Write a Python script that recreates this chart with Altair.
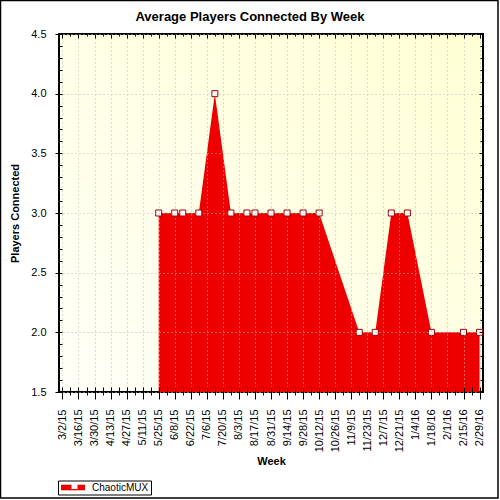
import altair as alt
import pandas as pd

# Weekly average of connected players (weeks with recorded activity only)
week_start = [
    "2015-05-25", "2015-06-08", "2015-06-15", "2015-06-29", "2015-07-13",
    "2015-07-27", "2015-08-10", "2015-08-17", "2015-08-31", "2015-09-14",
    "2015-09-28", "2015-10-12", "2015-11-16", "2015-11-30", "2015-12-14",
    "2015-12-28", "2016-01-18", "2016-02-15", "2016-02-29",
]
avg_players = [
    3.0, 3.0, 3.0, 3.0, 4.0,
    3.0, 3.0, 3.0, 3.0, 3.0,
    3.0, 3.0, 2.0, 2.0, 3.0,
    3.0, 2.0, 2.0, 2.0,
]
series_name = "ChaoticMUX"

# Axis ticks: one per week (Mondays), labelled every other week
tick_weeks = pd.date_range("2015-03-02", "2016-02-29", freq="7D")
tick_ms = [int(t.value // 10**6) for t in tick_weeks]
y_ticks = [round(1.5 + 0.1 * i, 1) for i in range(31)]

DAY_MS = 86400000
x_domain = [tick_ms[0] - 3 * DAY_MS, tick_ms[-1] + 3 * DAY_MS]
y_domain = [1.5, 4.5]

FONT = "Liberation Sans"
RED = "#EE0000"
MARKER_EDGE = "#990000"

df = pd.DataFrame({"week": week_start, "players": avg_players, "series": series_name})

MAJOR_WEEK = "round((datum.value - utc(2015, 2, 2)) / 604800000) % 2 === 0"
MAJOR_Y = "abs(datum.value * 2 - round(datum.value * 2)) < 0.000001"

x_scale = alt.Scale(type="utc", domain=x_domain)
y_scale = alt.Scale(domain=y_domain, zero=False, nice=False)

x_axis_bottom = alt.Axis(
    orient="bottom", values=tick_ms, offset=-5, domain=False,
    labelExpr=f"{MAJOR_WEEK} ? utcFormat(datum.value, '%-m/%-d/%y') : ''",
    labelAngle=270, labelFont=FONT, labelFontSize=11, labelColor="black",
    labelPadding=10, labelOverlap=False, labelFlush=False,
    tickColor="black", tickWidth=1,
    tickSize={"condition": {"test": MAJOR_WEEK, "value": 12}, "value": 8},
    grid=True, gridColor="#BDBDBD", gridDash=[1, 3], gridWidth=1,
    gridOpacity={"condition": {"test": MAJOR_WEEK, "value": 1}, "value": 0},
    title="Week", titleFont=FONT, titleFontSize=11, titleFontWeight="bold",
    titleColor="black", titlePadding=4, zindex=1,
)

y_axis_left = alt.Axis(
    orient="left", values=y_ticks, offset=-3, domain=False,
    labelExpr=f"{MAJOR_Y} ? format(datum.value, '.1f') : ''",
    labelFont=FONT, labelFontSize=11, labelColor="black",
    labelPadding=9, labelOverlap=False, labelFlush=False,
    tickColor="black", tickWidth=1,
    tickSize={"condition": {"test": MAJOR_Y, "value": 7}, "value": 4},
    grid=True, gridColor="#BDBDBD", gridDash=[1, 3], gridWidth=1,
    gridOpacity={"condition": {"test": MAJOR_Y, "value": 1}, "value": 0},
    title="Players Connected", titleFont=FONT, titleFontSize=11,
    titleFontWeight="bold", titleColor="black", titlePadding=10, zindex=1,
)

x_axis_top = alt.Axis(
    orient="top", values=tick_ms, labels=False, domain=False, grid=False,
    tickColor="black", tickWidth=1,
    tickSize={"condition": {"test": MAJOR_WEEK, "value": -4}, "value": -2},
    title=None, zindex=1,
)

y_axis_right = alt.Axis(
    orient="right", values=y_ticks, labels=False, domain=False, grid=False,
    tickColor="black", tickWidth=1,
    tickSize={"condition": {"test": MAJOR_Y, "value": -4}, "value": -3},
    title=None, zindex=1,
)

area = alt.Chart(df).mark_area(interpolate="linear", opacity=1).encode(
    x=alt.X("week:T", scale=x_scale, axis=x_axis_bottom),
    y=alt.Y("players:Q", scale=y_scale, axis=y_axis_left),
    y2=alt.datum(1.5),
    color=alt.Color(
        "series:N",
        scale=alt.Scale(domain=[series_name], range=[RED]),
        legend=alt.Legend(
            orient="none", legendX=-1, legendY=446.5, title=None,
            symbolType="M-1,-0.7H5V0.7H-1Z", symbolSize=64, symbolStrokeWidth=0,
            labelFont=FONT, labelFontSize=10, labelColor="black", labelOffset=22,
            strokeColor="black", fillColor="white", padding=2,
        ),
    ),
)

points = alt.Chart(df).mark_point(
    filled=True, fill="white", stroke=MARKER_EDGE, strokeWidth=1, opacity=1, size=36
).encode(
    x=alt.X("week:T", scale=x_scale, axis=x_axis_top),
    y=alt.Y("players:Q", scale=y_scale, axis=y_axis_right),
    shape=alt.Shape(
        "series:N",
        scale=alt.Scale(range=["square"]),
        legend=alt.Legend(
            orient="none", legendX=10.5, legendY=447, title=None,
            symbolSize=36, symbolFillColor="white", symbolStrokeColor=MARKER_EDGE,
            symbolStrokeWidth=1, labelExpr="''", padding=0,
        ),
    ),
)

# Outer border around the whole figure
frame = alt.Chart(alt.Data(values=[{}])).mark_rect(
    filled=False, stroke="black", strokeWidth=1.5
).encode(
    x=alt.value(-58.5), x2=alt.value(439), y=alt.value(-33.5), y2=alt.value(464)
)

plot_bg = (
    "{gradient: 'linear', x1: 0, y1: 1, x2: 1, y2: 0, "
    "stops: [{offset: 0, color: '#FFFFF8'}, {offset: 1, color: '#FFFFD4'}]}"
)

chart = (
    alt.layer(frame, area, points)
    .resolve_axis(x="independent", y="independent")
    .resolve_legend(color="independent", shape="independent")
    .properties(
        width=424,
        height=358,
        autosize=alt.AutoSizeParams(type="none"),
        padding={"left": 59, "top": 34, "right": 17, "bottom": 108},
        background="white",
        view=alt.ViewBackground(fill={"expr": plot_bg}, stroke="black", strokeWidth=2),
        title=alt.TitleParams(
            "Average Players Connected By Week", font=FONT, fontSize=13,
            fontWeight="bold", color="black", anchor="middle", frame="group",
            dx=-21, dy=33, offset=9,
        ),
    )
)

chart.save("out.html", embed_options={"renderer": "svg", "actions": False})
